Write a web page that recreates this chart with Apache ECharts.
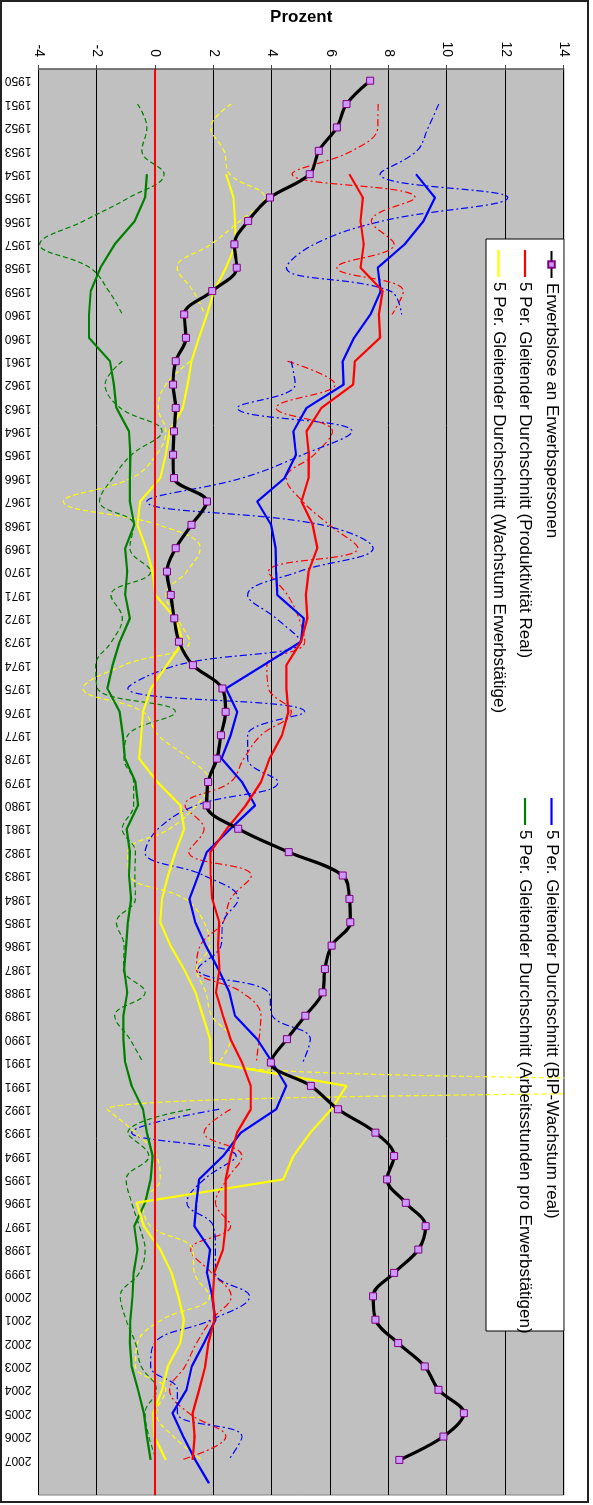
<!DOCTYPE html>
<html>
<head>
<meta charset="utf-8">
<script src="https://cdn.jsdelivr.net/npm/echarts@6/dist/echarts.min.js"></script>
<style>
html, body { margin: 0; padding: 0; background: #fff; overflow: hidden; }
#wrap { position: absolute; left: 0; top: 0; width: 593px; height: 1505px; overflow: hidden; }
/* chart is drawn lying on its side and turned 90deg clockwise */
#main { position: absolute; left: 0; top: 0; width: 1505px; height: 593px;
        transform-origin: 0 0; transform: translate(593px, 0) rotate(90deg); }
</style>
</head>
<body>
<div id="wrap"><div id="main"></div></div>
<script>
// Kategorien (1960 und 1991 doppelt, letzte Zeile ohne Beschriftung)
var years = ['1950','1951','1952','1953','1954','1955','1956','1957','1958','1959',
    '1960','1960','1961','1962','1963','1964','1965','1966','1967','1968',
    '1969','1970','1971','1972','1973','1974','1975','1976','1977','1978',
    '1979','1980','1981','1982','1983','1984','1985','1986','1987','1988',
    '1989','1990','1991','1991','1992','1993','1994','1995','1996','1997',
    '1998','1999','2000','2001','2002','2003','2004','2005','2006','2007',''];

var erwerbslose = [7.36, 6.55, 6.22, 5.60, 5.29, 3.93, 3.18, 2.71, 2.79, 1.95,
    0.99, 1.05, 0.70, 0.61, 0.70, 0.64, 0.61, 0.64, 1.77, 1.24,
    0.70, 0.40, 0.53, 0.65, 0.81, 1.29, 2.30, 2.41, 2.25, 2.11,
    1.81, 1.76, 2.84, 4.57, 6.42, 6.65, 6.68, 6.04, 5.81, 5.73,
    5.14, 4.51, 3.96, 5.33, 6.26, 7.54, 8.18, 7.94, 8.58, 9.26,
    9.01, 8.18, 7.46, 7.54, 8.32, 9.23, 9.70, 10.57, 9.87, 8.36, null];

// 5 Per. gleitende Durchschnitte
var prodAvg = [null, null, null, null, 6.65, 7.11, 7.03, 7.14, 7.03, 7.79,
    7.66, 7.70, 6.84, 6.78, 5.69, 5.18, 5.26, 5.25, 5.01, 5.39,
    5.55, 5.25, 5.16, 5.21, 4.99, 4.49, 4.49, 4.56, 4.34, 3.91,
    3.62, 3.10, 2.45, 1.89, 1.90, 1.95, 2.19, 2.15, 2.20, 2.08,
    2.32, 2.58, 2.97, 3.27, 3.27, 2.80, 2.58, 2.41, 2.41, 2.41,
    2.32, 2.02, 1.97, 2.03, 1.82, 1.71, 1.50, 1.28, 1.35, 1.28, null];

var bipAvg = [null, null, null, null, 8.93, 9.58, 9.19, 8.54, 7.62, 7.72,
    7.37, 6.81, 6.42, 6.45, 5.18, 4.73, 4.82, 4.43, 3.49, 3.97,
    4.12, 4.14, 4.18, 5.09, 4.99, 3.71, 2.42, 2.81, 2.58, 2.27,
    2.97, 3.42, 2.58, 1.76, 1.47, 1.17, 1.37, 1.73, 2.16, 2.54,
    2.73, 3.49, 4.01, 4.49, 4.14, 2.93, 2.32, 1.50, 1.41, 1.34,
    1.88, 1.77, 1.95, 2.06, 1.67, 1.25, 1.07, 0.59, 0.96, 1.37, 1.84];

var erwAvg = [null, null, null, null, 2.42, 2.68, 2.73, 2.76, 2.42, 2.01,
    1.77, 1.50, 1.24, 1.11, 0.94, 0.49, 0.36, 0.17, -0.52, -0.61,
    -0.32, -0.09, 0.00, 0.69, 0.95, 0.40, -0.15, -0.42, -0.48, -0.55,
    0.07, 0.86, 0.99, 0.69, 0.44, 0.23, 0.17, 0.52, 0.98, 1.38,
    1.63, 1.88, 1.90, 6.55, 6.03, 5.31, 4.73, 4.38, -0.64, -0.39,
    0.17, 0.56, 0.79, 0.98, 0.86, 0.43, 0.23, -0.07, -0.03, 0.36, null];

var stdAvg = [null, null, null, null, -0.29, -0.35, -0.70, -1.39, -1.88, -2.21,
    -2.27, -2.27, -1.55, -1.42, -1.33, -0.90, -0.85, -0.87, -0.87, -0.72,
    -1.03, -0.96, -1.03, -0.87, -1.22, -1.46, -1.64, -1.22, -1.11, -1.04,
    -0.68, -0.59, -0.98, -0.87, -0.90, -0.83, -0.94, -1.00, -1.07, -0.96,
    -1.09, -1.09, -1.03, -0.81, -0.42, -0.29, -0.09, -0.16, -0.35, -0.72,
    -0.61, -0.74, -0.78, -0.85, -0.87, -0.81, -0.59, -0.39, -0.29, -0.16, null];

// jaehrliche Werte (gestrichelt)
var prodRaw = [null, 7.63, 7.62, 6.74, 4.69, 8.90, 7.40, 8.18, 6.22, 8.50,
    8.11, null, 4.53, 6.16, 4.14, 6.07, 5.44, 4.49, 5.05, 5.96,
    6.94, 3.88, 4.53, 4.92, 5.12, 3.82, 3.88, 4.66, 3.62, 3.03,
    2.58, 1.02, 1.67, 1.15, 3.29, 2.58, 2.32, 1.54, 1.41, 2.97,
    3.62, 3.55, 3.46, null, 2.58, 1.67, 2.97, 2.45, 2.06, 2.58,
    1.21, 1.93, 2.60, 1.93, 1.41, 1.02, 0.49, 1.15, 2.42, 0.89, null];

var bipRaw = [null, 9.71, 9.35, 8.96, 7.70, 12.08, 7.79, 5.44, 4.49, 8.05,
    8.44, null, 4.66, 4.79, 2.81, 6.74, 5.05, 2.97, -0.29, 5.70,
    7.46, 4.92, 3.16, 4.14, 4.99, 0.76, -0.94, 5.12, 3.16, 3.16,
    4.21, 1.40, 0.10, -0.35, 1.67, 2.84, 2.32, 2.25, 1.47, 3.88,
    4.01, 5.31, 5.05, null, 2.19, -0.81, 2.77, 1.67, 1.08, 1.99,
    2.06, 2.06, 3.23, 1.93, -0.03, -0.16, 0.76, 0.76, 2.97, 2.51, null];

var erwRaw = [null, 2.60, 1.90, 2.35, 2.55, 3.75, 2.90, 1.90, 0.75, 1.30,
    1.70, null, 1.21, 0.36, 0.10, 0.36, 0.04, -0.81, -3.15, 0.10,
    1.54, 1.08, 0.36, 0.75, 1.18, -1.07, -2.47, -0.42, 0.10, 1.15,
    1.86, 1.41, 0.49, -0.94, -0.87, 1.02, 1.67, 1.86, 1.41, 1.73,
    1.93, 2.58, 2.19, 24.5, -1.65, -0.68, 0.04, 0.17, -0.42, -0.16,
    1.28, 1.34, 1.86, 0.23, -0.61, -0.68, 0.36, 0.04, 0.62, 1.60, null];

var stdRaw = [null, -0.61, -0.29, -0.46, 0.30, -0.90, -2.45, -3.96, -2.24, -1.59,
    -1.13, null, -1.13, -1.72, -1.20, 0.23, -0.81, -1.46, -1.91, -0.74,
    -0.87, -0.16, -1.52, -1.13, -1.50, -2.04, -1.98, 0.69, -0.94, -1.07,
    -0.74, -0.74, -1.13, -0.68, -0.70, -0.68, -1.33, -1.07, -1.09, -0.35,
    -1.39, -0.87, -0.42, null, 1.21, -0.94, -0.22, -1.00, -0.81, -0.55,
    -0.35, -0.55, -1.20, -1.00, -0.68, -0.48, 0.04, -0.35, -0.22, 0.04, null];

var font = 'Liberation Sans, Arial, sans-serif';
var dashDot = [7, 3, 2, 3];
var dashed = [5, 3];

var nameErw = 'Erwerbslose an Erwerbspersonen';
var nameProd = '5 Per. Gleitender Durchschnitt (Produktivität Real)';
var nameWachs = '5 Per. Gleitender Durchschnitt (Wachstum Erwerbstätige)';
var nameBip = '5 Per. Gleitender Durchschnitt (BIP-Wachstum real)';
var nameStd = '5 Per. Gleitender Durchschnitt (Arbeitsstunden pro Erwerbstätigen)';

function rawLine(name, data, color, dash) {
    return {
        name: name, type: 'line', data: data, smooth: 0.4,
        symbol: 'none', silent: true, clip: true,
        lineStyle: {color: color, width: 1.2, type: dash}
    };
}
function avgLine(name, data, color) {
    return {
        name: name, type: 'line', data: data,
        symbol: 'none', clip: true,
        lineStyle: {color: color, width: 2.2},
        itemStyle: {color: color}
    };
}
function legendBox(left, top, names, icon, h) {
    var l = {
        orient: 'vertical', left: left, top: top, itemGap: 9.5,
        itemWidth: 27, itemHeight: h, z: 4,
        textStyle: {fontSize: 17, color: '#000', fontFamily: font},
        data: names
    };
    if (icon) l.icon = icon;
    return l;
}

var myChart = echarts.init(document.getElementById('main'));
var option = {
    animation: false,
    textStyle: {fontFamily: font},
    grid: {
        left: 69, right: 10, top: 29, bottom: 38.5,
        show: true, backgroundColor: '#c0c0c0', borderColor: '#808080', borderWidth: 1
    },
    xAxis: {
        type: 'category',
        data: years,
        boundaryGap: true,
        axisLine: {lineStyle: {color: '#666', width: 1.5}},
        axisTick: {interval: 0, length: 4, lineStyle: {color: '#444'}},
        axisLabel: {interval: 0, rotate: -90, color: '#000', fontSize: 12, fontFamily: font, margin: 7}
    },
    yAxis: {
        type: 'value',
        min: -4, max: 14, interval: 2,
        name: 'Prozent',
        nameLocation: 'middle',
        nameGap: 43,
        nameTextStyle: {fontSize: 17, fontWeight: 'bold', color: '#000', fontFamily: font},
        axisLine: {show: true, lineStyle: {color: '#666', width: 1.5}},
        axisTick: {show: true, length: 4, lineStyle: {color: '#444'}},
        axisLabel: {color: '#000', fontSize: 14, fontFamily: font, margin: 12},
        splitLine: {lineStyle: {color: '#000', width: 1}}
    },
    legend: [
        legendBox(245, 28, [nameErw], null, 8),
        legendBox(245, 54.5, [nameProd, nameWachs], 'rect', 2.2),
        legendBox(793, 28, [nameBip, nameStd], 'rect', 2.2)
    ],
    graphic: {
        elements: [
            // Abdeckung oberhalb der Zeichenflaeche (Ausreisser 1991)
            {type: 'rect', id: 'mask', z: 9, silent: true,
             shape: {x: 66, y: 0, width: 1439, height: 28.3},
             style: {fill: '#ffffff', stroke: null}},
            // Legendenrahmen
            {type: 'rect', id: 'legendFrame', z: 3, silent: true,
             shape: {x: 239, y: 29, width: 1092, height: 78},
             style: {fill: '#fff', stroke: '#000', lineWidth: 1}},
            // Rahmen um das Diagramm
            {type: 'rect', id: 'frame', z: 10, silent: true,
             shape: {x: 1, y: 5, width: 1501, height: 587},
             style: {fill: 'none', stroke: '#222', lineWidth: 2}}
        ]
    },
    series: [
        rawLine('Produktivität Real (jährlich)', prodRaw, '#ff0000', dashDot),
        rawLine('BIP-Wachstum real (jährlich)', bipRaw, '#0000ff', dashDot),
        rawLine('Wachstum Erwerbstätige (jährlich)', erwRaw, '#ffff00', dashed),
        rawLine('Arbeitsstunden pro Erwerbstätigen (jährlich)', stdRaw, '#008000', dashed),
        {
            name: 'Null', type: 'line', data: [], silent: true,
            markLine: {
                silent: true, symbol: 'none', label: {show: false},
                lineStyle: {color: '#ff0000', width: 2, type: 'solid'},
                data: [{yAxis: 0}]
            }
        },
        avgLine(nameStd, stdAvg, '#008000'),
        avgLine(nameWachs, erwAvg, '#ffff00'),
        avgLine(nameBip, bipAvg, '#0000ff'),
        avgLine(nameProd, prodAvg, '#ff0000'),
        {
            name: nameErw, type: 'line', data: erwerbslose,
            smooth: 0.35, symbol: 'rect', symbolSize: 7, showSymbol: true,
            lineStyle: {color: '#000', width: 3.2},
            itemStyle: {color: '#cc99ff', borderColor: '#800080', borderWidth: 1}
        }
    ]
};
myChart.setOption(option);
</script>
</body>
</html>
